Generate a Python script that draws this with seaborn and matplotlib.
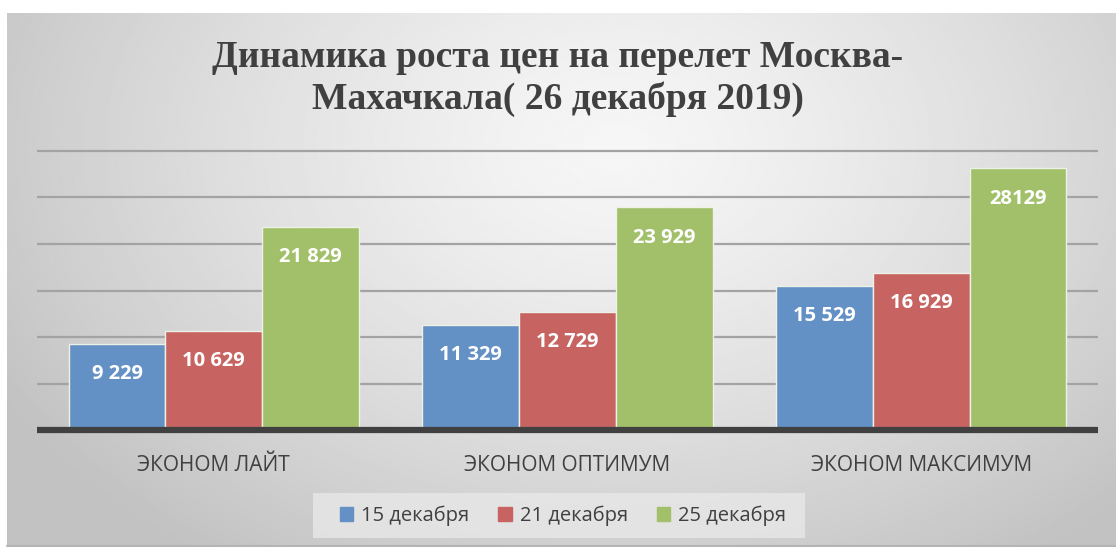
import numpy as np
import pandas as pd
import matplotlib
matplotlib.use("Agg")
import matplotlib.pyplot as plt
import seaborn as sns
from matplotlib.patches import Rectangle

categories = ["ЭКОНОМ ЛАЙТ", "ЭКОНОМ ОПТИМУМ", "ЭКОНОМ МАКСИМУМ"]
series = ["15 декабря", "21 декабря", "25 декабря"]
vals_15 = [9229, 11329, 15529]
vals_21 = [10629, 12729, 16929]
vals_25 = [21829, 23929, 28129]
labels_15 = ["9 229", "11 329", "15 529"]
labels_21 = ["10 629", "12 729", "16 929"]
labels_25 = ["21 829", "23 929", "28129"]
title = "Динамика роста цен на перелет Москва-\nМахачкала( 26 декабря 2019)"

colors = ["#6390c5", "#c76462", "#a2c06a"]

rows = []
for s, vals in zip(series, [vals_15, vals_21, vals_25]):
    for c, v in zip(categories, vals):
        rows.append({"cat": c, "series": s, "value": v})
df = pd.DataFrame(rows)

sns.set_theme(style="white")
plt.rcParams["font.family"] = ["Open Sans", "DejaVu Sans"]

W, H = 1116, 547
fig = plt.figure(figsize=(W / 100, H / 100), dpi=100)
fig.patch.set_facecolor("white")

# background gradient panel
bg = fig.add_axes([7 / W, 0, 1 - 7 / W, 1 - 13 / H])
bg.set_axis_off()
yy, xx = np.mgrid[0:1:300j, 0:1:600j]
d = np.sqrt(((xx - 0.55) / 0.75) ** 2 + ((yy - 0.25) / 1.1) ** 2)
g = np.clip(0.965 - 0.25 * d ** 1.3, 0.76, 0.97)
bg.imshow(g, cmap="gray", vmin=0, vmax=1, aspect="auto", extent=[0, 1, 1, 0], interpolation="bilinear")
bg.set_xlim(0, 1)
bg.set_ylim(1, 0)
bg.plot([0, 1], [0.002, 0.002], color="#b4b4b4", lw=1.5, transform=bg.transAxes, clip_on=False)

# legend box
fig.patches.append(Rectangle((313 / W, 1 - 538 / H), (805 - 313) / W, 45 / H,
                             transform=fig.transFigure, facecolor="#e8e8e8",
                             edgecolor="none", alpha=0.8, zorder=1))

# main axes
left, right = 37 / W, 1098 / W
bottom, top = 1 - 430 / H, 1 - 151 / H
ax = fig.add_axes([left, bottom, right - left, top - bottom])
ax.patch.set_alpha(0)

for yv in range(5000, 30001, 5000):
    ax.axhline(yv, color="#a3a3a3", lw=1.6, zorder=0, clip_on=False, solid_capstyle="butt")

sns.barplot(data=df, x="cat", y="value", hue="series", palette=colors,
            order=categories, hue_order=series, width=0.82, ax=ax,
            edgecolor="#eef2e6", linewidth=1.0, saturation=1, errorbar=None, zorder=2)

ax.set_ylim(0, 30000)
ax.set_xlim(-0.5, 2.5)
ax.set_ylabel("")
ax.set_xlabel("")
ax.set_yticks([])
for s in ax.spines.values():
    s.set_visible(False)
ax.axhline(0, color="#404040", lw=4.5, zorder=3, clip_on=False, solid_capstyle="butt")
ax.tick_params(axis="x", length=0, pad=18, labelsize=15, labelcolor="#404040")

all_labels = [labels_15, labels_21, labels_25]
for cont, labs in zip(ax.containers, all_labels):
    ax.bar_label(cont, labels=labs, label_type="edge", padding=-29,
                 color="white", fontsize=14.5, fontweight="bold")

leg = ax.get_legend()
if leg is not None:
    leg.remove()
handles = [plt.Rectangle((0, 0), 1, 1, color=c) for c in colors]
fig.legend(handles, series, loc="center", bbox_to_anchor=(563 / W, 1 - 516 / H),
           ncol=3, frameon=False, fontsize=14.5, handlelength=0.65, handleheight=0.65,
           handletextpad=0.4, columnspacing=1.45, borderpad=0.3, borderaxespad=0,
           labelcolor="#404040")

fig.text(0.5, 1 - 78.5 / H, title, ha="center", va="center", fontsize=27,
         fontweight="bold", color="#404040", family=["Liberation Serif", "DejaVu Serif"],
         linespacing=1.2)

fig.savefig("out.png", dpi=100)
